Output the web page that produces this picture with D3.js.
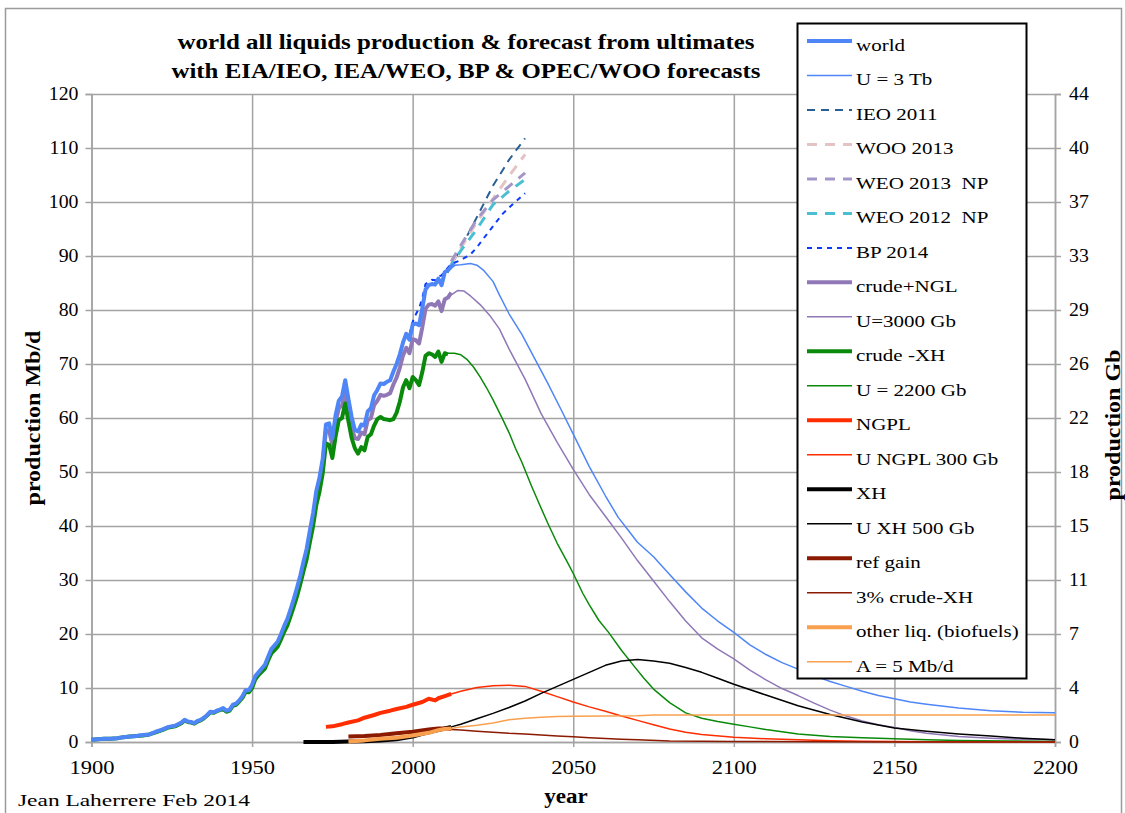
<!DOCTYPE html>
<html><head><meta charset="utf-8">
<script src="https://cdn.jsdelivr.net/npm/d3@7"></script>
<style>
body{margin:0;background:#fff}
svg{display:block}
text{font-family:"Liberation Serif","Times New Roman",serif;fill:#000}
</style>
</head><body>
<svg id="chart" width="1125" height="813"></svg>
<script>
// ---------- DATA ----------
const xTicks = [1900, 1950, 2000, 2050, 2100, 2150, 2200];
const leftTicks = [0, 10, 20, 30, 40, 50, 60, 70, 80, 90, 100, 110, 120];
const rightTickLabels = ["0", "4", "7", "11", "15", "18", "22", "26", "29", "33", "37", "40", "44"];

const worldHist = [[1900,0.4],[1902,0.5],[1904,0.6],[1906,0.6],[1908,0.7],[1910,0.9],[1912,1.0],[1914,1.1],[1916,1.3],[1918,1.4],[1920,1.9],[1922,2.3],[1924,2.8],[1926,3.0],[1928,3.6],[1929,4.1],[1930,3.8],[1931,3.7],[1932,3.5],[1933,3.9],[1934,4.1],[1935,4.5],[1936,5.0],[1937,5.6],[1938,5.5],[1939,5.8],[1940,6.0],[1941,6.3],[1942,5.8],[1943,6.0],[1944,6.9],[1945,7.1],[1946,7.7],[1947,8.5],[1948,9.6],[1949,9.6],[1950,10.6],[1951,12.2],[1952,12.9],[1953,13.6],[1954,14.3],[1955,15.8],[1956,17.2],[1957,17.9],[1958,18.6],[1959,20.0],[1960,21.5],[1961,22.8],[1962,24.6],[1963,26.5],[1964,28.6],[1965,30.8],[1966,33.4],[1967,35.8],[1968,39.2],[1969,42.4],[1970,46.5],[1971,49.0],[1972,52.5],[1973,58.8],[1974,59.0],[1975,56.2],[1976,60.5],[1977,63.2],[1978,64.0],[1979,67.0],[1980,63.5],[1981,60.2],[1982,57.8],[1983,57.5],[1984,58.8],[1985,58.6],[1986,61.2],[1987,61.8],[1988,64.2],[1989,65.2],[1990,66.4],[1991,66.3],[1992,66.7],[1993,67.0],[1994,68.6],[1995,70.0],[1996,71.8],[1997,74.0],[1998,75.6],[1999,74.5],[2000,77.3],[2001,77.5],[2002,77.2],[2003,80.3],[2004,83.8],[2005,84.6],[2006,84.8],[2007,84.7],[2008,85.8],[2009,84.6],[2010,87.0],[2011,87.4],[2012,88.0],[2013,88.5]];
const worldU3Tb = [[2013,88.3],[2015,88.4],[2018,88.6],[2020,88.3],[2022,87.4],[2025,85.3],[2027,82.8],[2030,79.3],[2034,75.5],[2038,71.0],[2042,66.5],[2046,61.8],[2050,57.0],[2055,51.0],[2060,45.6],[2064,41.6],[2067,39.3],[2070,37.0],[2075,34.3],[2080,31.0],[2085,27.8],[2090,24.8],[2095,22.4],[2100,20.3],[2105,18.0],[2110,16.2],[2115,14.7],[2120,13.5],[2125,12.3],[2130,11.2],[2135,10.3],[2140,9.4],[2145,8.6],[2150,8.0],[2155,7.4],[2160,7.0],[2170,6.3],[2180,5.8],[2190,5.5],[2200,5.4]];
const ieo2011 = [[2008,85.0],[2010,86.0],[2015,91.5],[2020,97.2],[2025,103.0],[2030,107.8],[2035,111.8]];
const woo2013 = [[2012,88.5],[2015,91.5],[2020,96.3],[2025,100.6],[2030,104.8],[2035,108.8]];
const weo2013 = [[2012,89.0],[2015,92.0],[2020,96.8],[2025,100.4],[2030,102.9],[2035,105.4]];
const weo2012 = [[2011,87.5],[2015,91.0],[2020,95.0],[2025,99.5],[2030,102.0],[2035,104.2]];
const bp2014 = [[1999,75.5],[2000,77.8],[2001,79.2],[2002,80.3],[2003,82.2],[2004,84.8],[2005,85.2],[2006,85.6],[2007,85.5],[2008,86.2],[2009,86.4],[2010,87.2],[2012,88.5],[2014,89.0],[2016,89.6],[2018,90.3],[2020,91.6],[2022,93.2],[2025,95.5],[2028,97.8],[2031,99.5],[2035,101.6]];
const crudeNglHist = [[1970,45.8],[1971,48.3],[1972,51.5],[1973,57.8],[1974,57.6],[1975,55.0],[1976,59.2],[1977,61.8],[1978,62.3],[1979,65.0],[1980,61.5],[1981,58.2],[1982,56.3],[1983,56.1],[1984,57.3],[1985,57.0],[1986,59.6],[1987,60.0],[1988,62.4],[1989,63.2],[1990,64.3],[1991,64.1],[1992,64.3],[1993,64.6],[1994,66.2],[1995,67.5],[1996,69.3],[1997,71.6],[1998,73.0],[1999,72.0],[2000,74.6],[2001,74.4],[2002,73.8],[2003,76.8],[2004,80.2],[2005,81.0],[2006,81.1],[2007,80.8],[2008,81.6],[2009,79.8],[2010,82.0],[2011,82.3],[2012,83.2]];
const crudeNglU3000 = [[2012,82.8],[2014,83.6],[2016,83.5],[2018,82.6],[2021,81.0],[2024,79.0],[2027,76.5],[2030,72.8],[2035,67.2],[2040,60.8],[2045,55.5],[2050,50.5],[2055,45.8],[2060,41.8],[2065,37.8],[2070,33.6],[2075,29.8],[2080,26.0],[2085,22.4],[2090,19.3],[2095,17.2],[2100,15.4],[2105,13.3],[2110,11.5],[2115,9.9],[2120,8.6],[2125,7.2],[2130,5.9],[2135,4.8],[2140,3.9],[2145,3.2],[2150,2.7],[2155,2.1],[2160,1.6],[2170,1.0],[2180,0.7],[2190,0.5],[2200,0.4]];
const crudeHist = [[1900,0.4],[1902,0.5],[1904,0.6],[1906,0.6],[1908,0.7],[1910,0.9],[1912,1.0],[1914,1.1],[1916,1.2],[1918,1.4],[1920,1.8],[1922,2.2],[1924,2.7],[1926,2.9],[1928,3.5],[1929,4.0],[1930,3.7],[1931,3.6],[1932,3.4],[1933,3.8],[1934,4.0],[1935,4.4],[1936,4.9],[1937,5.5],[1938,5.4],[1939,5.7],[1940,5.9],[1941,6.1],[1942,5.6],[1943,5.8],[1944,6.7],[1945,6.9],[1946,7.5],[1947,8.2],[1948,9.3],[1949,9.2],[1950,10.0],[1951,11.6],[1952,12.4],[1953,13.0],[1954,13.6],[1955,15.1],[1956,16.4],[1957,17.0],[1958,17.7],[1959,19.0],[1960,20.4],[1961,21.6],[1962,23.3],[1963,25.1],[1964,27.0],[1965,29.2],[1966,31.6],[1967,33.9],[1968,37.0],[1969,40.0],[1970,43.9],[1971,46.4],[1972,49.8],[1973,55.3],[1974,55.0],[1975,52.6],[1976,56.6],[1977,59.6],[1978,60.0],[1979,62.7],[1980,59.4],[1981,56.3],[1982,54.4],[1983,53.4],[1984,54.6],[1985,54.0],[1986,56.5],[1987,57.0],[1988,58.6],[1989,59.8],[1990,60.2],[1991,59.8],[1992,59.7],[1993,59.6],[1994,59.8],[1995,61.0],[1996,63.0],[1997,65.7],[1998,67.0],[1999,65.5],[2000,67.6],[2001,67.0],[2002,66.1],[2003,68.5],[2004,71.5],[2005,72.0],[2006,71.8],[2007,71.3],[2008,72.3],[2009,70.4],[2010,72.0],[2011,71.8]];
const crudeU2200 = [[2011,72.0],[2013,72.0],[2015,71.7],[2017,70.8],[2019,69.4],[2021,67.6],[2023,65.6],[2025,63.4],[2028,59.8],[2030,57.3],[2032,54.4],[2034,51.8],[2037,47.4],[2040,43.3],[2042,40.6],[2045,36.8],[2048,33.5],[2050,31.2],[2053,27.5],[2055,25.4],[2058,22.5],[2061,20.3],[2065,17.0],[2069,14.0],[2072,11.8],[2075,9.8],[2080,7.3],[2085,5.4],[2090,4.4],[2095,3.8],[2100,3.3],[2105,2.8],[2110,2.3],[2115,1.9],[2120,1.5],[2130,1.0],[2140,0.8],[2150,0.6],[2160,0.4],[2170,0.3],[2185,0.2],[2200,0.1]];
const ngplHist = [[1973,2.8],[1975,2.9],[1978,3.3],[1980,3.6],[1983,4.0],[1985,4.5],[1988,5.0],[1990,5.4],[1993,5.8],[1995,6.1],[1998,6.5],[2000,6.9],[2003,7.4],[2005,8.0],[2007,7.7],[2008,8.1],[2010,8.5],[2012,8.9]];
const ngplU300 = [[2012,8.9],[2015,9.4],[2020,10.1],[2025,10.4],[2030,10.5],[2035,10.3],[2040,9.4],[2045,8.4],[2050,7.4],[2055,6.5],[2060,5.7],[2065,4.8],[2070,4.0],[2075,3.2],[2080,2.4],[2085,1.8],[2090,1.4],[2100,0.9],[2110,0.6],[2120,0.4],[2130,0.25],[2140,0.15],[2160,0.05],[2200,0.0]];
const xhHist = [[1966,0.0],[1970,0.0],[1975,0.0],[1980,0.1],[1985,0.15],[1990,0.3],[1995,0.5],[2000,1.0],[2003,1.5],[2005,1.8],[2008,2.2],[2010,2.5],[2012,2.8]];
const xhU500 = [[2012,2.8],[2015,3.3],[2020,4.3],[2025,5.3],[2030,6.4],[2035,7.6],[2040,9.0],[2045,10.3],[2050,11.6],[2055,12.9],[2060,14.2],[2065,15.0],[2070,15.3],[2075,15.0],[2080,14.6],[2085,13.8],[2090,12.9],[2095,11.8],[2100,10.7],[2110,8.7],[2120,6.7],[2130,5.1],[2140,3.7],[2150,2.6],[2160,2.0],[2170,1.5],[2180,1.1],[2190,0.7],[2200,0.4]];
const refGainHist = [[1980,1.0],[1985,1.1],[1990,1.3],[1995,1.6],[2000,1.9],[2005,2.3],[2008,2.5],[2010,2.5],[2012,2.4]];
const refGain3pct = [[2012,2.3],[2015,2.2],[2020,2.0],[2025,1.8],[2030,1.6],[2035,1.5],[2040,1.3],[2045,1.1],[2050,0.95],[2055,0.8],[2060,0.65],[2065,0.5],[2070,0.4],[2080,0.2],[2090,0.15],[2100,0.1],[2150,0.02],[2200,0.0]];
const otherHist = [[1980,0.1],[1985,0.3],[1990,0.6],[1995,0.8],[2000,1.2],[2005,1.7],[2008,2.2],[2010,2.4],[2012,2.5]];
const otherA5 = [[2012,2.5],[2015,2.8],[2020,3.1],[2025,3.5],[2030,4.1],[2035,4.4],[2040,4.6],[2045,4.7],[2050,4.75],[2060,4.8],[2070,4.85],[2075,5.0],[2100,5.0],[2150,5.0],[2200,5.0]];

const seriesNames = ["world","U = 3 Tb","IEO 2011","WOO 2013","WEO 2013  NP","WEO 2012  NP","BP 2014","crude+NGL","U=3000 Gb","crude -XH","U = 2200 Gb","NGPL","U NGPL 300 Gb","XH","U XH 500 Gb","ref gain","3% crude-XH","other liq. (biofuels)","A = 5 Mb/d"];
const seriesData = [worldHist, worldU3Tb, ieo2011, woo2013, weo2013, weo2012, bp2014, crudeNglHist, crudeNglU3000, crudeHist, crudeU2200, ngplHist, ngplU300, xhHist, xhU500, refGainHist, refGain3pct, otherHist, otherA5];

// ---------- STYLES ----------
const styles = [
  {c:"#4F86F7", w:4},
  {c:"#4F86F7", w:1.5},
  {c:"#2A5F95", w:2, d:"8,6"},
  {c:"#E3C3C3", w:3, d:"10,8"},
  {c:"#A497C7", w:3, d:"10,8"},
  {c:"#4BBFD2", w:3, d:"10,8"},
  {c:"#0A3AFF", w:2, d:"5,5"},
  {c:"#9078B6", w:4},
  {c:"#9078B6", w:1.5},
  {c:"#0A8A0A", w:4},
  {c:"#0A8A0A", w:1.5},
  {c:"#FF2D00", w:4},
  {c:"#FF2D00", w:1.5},
  {c:"#000000", w:4},
  {c:"#000000", w:1.5},
  {c:"#8B1A00", w:4},
  {c:"#8B1A00", w:1.5},
  {c:"#F9A04F", w:4},
  {c:"#F9A04F", w:1.5}
];
// drawing order: world history last so it sits on top, as in the original
const drawOrder = [1,2,3,4,5,6,7,8,9,10,11,12,13,14,15,16,17,18,0];

// stretch text horizontally (the original typeface is wider than Liberation Serif)
function stretch(sel, f){
  sel.each(function(){
    const w = this.getComputedTextLength();
    d3.select(this).attr("textLength", w*f).attr("lengthAdjust","spacingAndGlyphs");
  });
}

const svg = d3.select("#chart");
const L = 91.5, R = 1055, T = 94, B = 742;
const x = d3.scaleLinear().domain([1900, 2200]).range([L, R]);
const y = d3.scaleLinear().domain([0, 120]).range([B, T]);

// outer frame
svg.append("rect").attr("x",5.5).attr("y",8.5).attr("width",1116).attr("height",820)
  .attr("fill","none").attr("stroke","#9a9a9a").attr("stroke-width",1.5);

const grid = "#a3a3a3";
svg.append("g").attr("transform",`translate(${L},0)`)
  .call(d3.axisLeft(y).tickValues(leftTicks).tickSize(-(R-L)).tickFormat(""))
  .call(g=>g.selectAll("line").attr("stroke",grid).attr("stroke-width",1.5))
  .call(g=>g.select(".domain").remove());
svg.append("g").attr("transform",`translate(0,${T})`)
  .call(d3.axisTop(x).tickValues(xTicks).tickSize(-(B-T)).tickFormat(""))
  .call(g=>g.selectAll("line").attr("stroke",grid).attr("stroke-width",1.5))
  .call(g=>g.select(".domain").remove());

const left = svg.append("g").attr("transform",`translate(${L},0)`)
  .call(d3.axisLeft(y).tickValues(leftTicks).tickSize(6).tickPadding(7))
  .call(g=>g.select(".domain").attr("stroke",grid).attr("stroke-width",1.5))
  .call(g=>g.selectAll("line").attr("stroke",grid).attr("stroke-width",1.5))
  .call(g=>g.selectAll("text").attr("font-size",18).attr("font-family","Liberation Serif"));
stretch(left.selectAll("text"), 1.1);
const right = svg.append("g").attr("transform",`translate(${R},0)`)
  .call(d3.axisRight(y).tickValues(leftTicks).tickSize(6).tickPadding(8).tickFormat((d,i)=>rightTickLabels[i]))
  .call(g=>g.select(".domain").attr("stroke",grid).attr("stroke-width",1.5))
  .call(g=>g.selectAll("line").attr("stroke",grid).attr("stroke-width",1.5))
  .call(g=>g.selectAll("text").attr("font-size",18).attr("font-family","Liberation Serif"));
stretch(right.selectAll("text"), 1.1);
const bottom = svg.append("g").attr("transform",`translate(0,${B})`)
  .call(d3.axisBottom(x).tickValues(xTicks).tickSize(5).tickPadding(14).tickFormat(d3.format("d")))
  .call(g=>g.select(".domain").attr("stroke",grid).attr("stroke-width",1.5))
  .call(g=>g.selectAll("line").attr("stroke",grid).attr("stroke-width",1.5))
  .call(g=>g.selectAll("text").attr("font-size",18).attr("font-family","Liberation Serif"));
stretch(bottom.selectAll("text"), 1.25);

// lines
const line = d3.line().x(d=>x(d[0])).y(d=>y(d[1]));
const plot = svg.append("g");
drawOrder.forEach(i=>{
  const s = styles[i];
  plot.append("path").datum(seriesData[i]).attr("d",line)
    .attr("fill","none").attr("stroke",s.c).attr("stroke-width",s.w)
    .attr("stroke-dasharray",s.d||null).attr("stroke-linejoin","round");
});

// titles
svg.append("text").attr("x",466).attr("y",49).attr("text-anchor","middle")
  .attr("font-size",21.5).attr("font-weight","bold")
  .attr("textLength",577).attr("lengthAdjust","spacingAndGlyphs")
  .text("world all liquids production & forecast from ultimates");
svg.append("text").attr("x",466).attr("y",78).attr("text-anchor","middle")
  .attr("font-size",21.5).attr("font-weight","bold")
  .attr("textLength",589).attr("lengthAdjust","spacingAndGlyphs")
  .text("with EIA/IEO, IEA/WEO, BP & OPEC/WOO forecasts");
const yl = svg.append("text").attr("transform","translate(40,418) rotate(-90)").attr("text-anchor","middle")
  .attr("font-size",20).attr("font-weight","bold").text("production Mb/d");
stretch(yl, 1.2);
const yr = svg.append("text").attr("transform","translate(1120,425) rotate(-90)").attr("text-anchor","middle")
  .attr("font-size",20).attr("font-weight","bold").text("production Gb");
stretch(yr, 1.2);
const xl = svg.append("text").attr("x",566).attr("y",803).attr("text-anchor","middle")
  .attr("font-size",20).attr("font-weight","bold").text("year");
stretch(xl, 1.15);
svg.append("text").attr("x",18).attr("y",806).attr("font-size",17.5)
  .attr("textLength",232).attr("lengthAdjust","spacingAndGlyphs").text("Jean Laherrere Feb 2014");

// legend
const lg = svg.append("g");
lg.append("rect").attr("x",797.5).attr("y",23.5).attr("width",229).attr("height",655)
  .attr("fill","#fff").attr("stroke","#000").attr("stroke-width",2);
const step = 34.48;
seriesNames.forEach((name,i)=>{
  const s = styles[i];
  const yy = 41 + i*step;
  lg.append("line").attr("x1",807).attr("x2",852).attr("y1",yy).attr("y2",yy)
    .attr("stroke",s.c).attr("stroke-width",s.w).attr("stroke-dasharray",s.d||null);
  const t = lg.append("text").attr("x",856).attr("y",yy+10).attr("font-size",17.5)
    .style("white-space","pre").text(name);
  stretch(t, 1.2);
});
</script>
</body></html>
